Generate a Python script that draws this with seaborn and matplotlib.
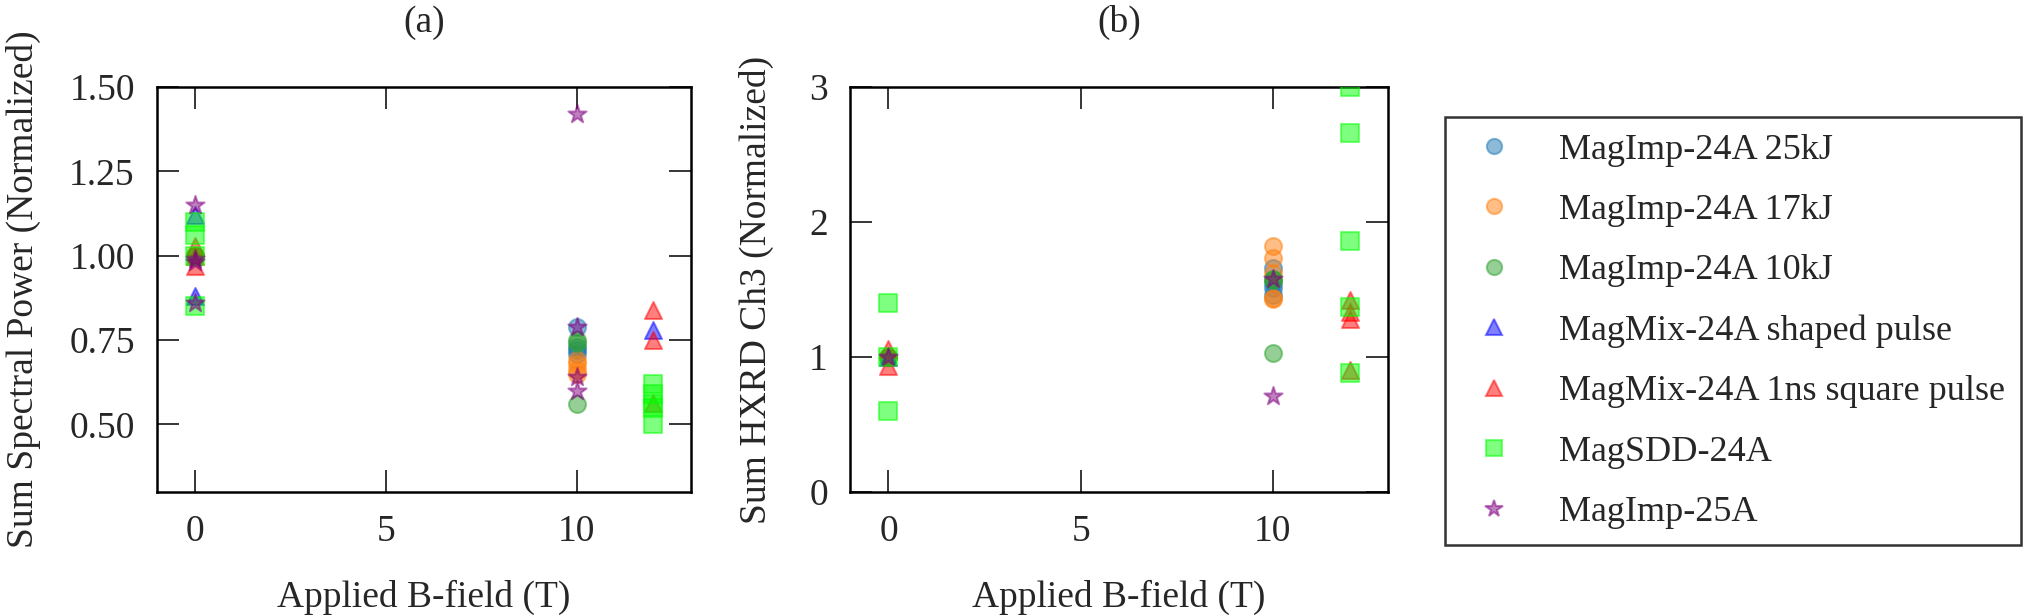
import pandas as pd
import numpy as np
import matplotlib
matplotlib.use('Agg')
import matplotlib.pyplot as plt
from matplotlib.lines import Line2D
from matplotlib.ticker import FormatStrFormatter
import seaborn as sns

series_names = ['MagImp-24A 25kJ', 'MagImp-24A 17kJ', 'MagImp-24A 10kJ',
                'MagMix-24A shaped pulse', 'MagMix-24A 1ns square pulse',
                'MagSDD-24A', 'MagImp-25A']
series_colors = ['tab:blue', 'tab:orange', 'tab:green', 'blue', 'red', 'lime', 'purple']
series_markers = ['o', 'o', 'o', '^', '^', 's', '*']

# panel (a): sum spectral power, normalized
imp25k_a_x = [0, 10, 10, 10, 10]
imp25k_a_y = [1.00, 0.79, 0.73, 0.72, 0.71]
imp17k_a_x = [0, 10, 10, 10, 10]
imp17k_a_y = [1.00, 0.69, 0.68, 0.66, 0.65]
imp10k_a_x = [0, 10, 10, 10]
imp10k_a_y = [1.00, 0.75, 0.74, 0.56]
mixshaped_a_x = [0, 0, 12]
mixshaped_a_y = [1.12, 0.88, 0.78]
mixsquare_a_x = [0, 0, 0, 12, 12, 12]
mixsquare_a_y = [1.03, 1.00, 0.97, 0.84, 0.75, 0.565]
sdd_a_x = [0, 0, 0, 0, 12, 12, 12, 12, 12]
sdd_a_y = [1.10, 1.06, 1.00, 0.85, 0.62, 0.59, 0.56, 0.55, 0.50]
imp25a_a_x = [0, 0, 0, 0, 10, 10, 10, 10]
imp25a_a_y = [1.15, 0.99, 0.98, 0.86, 1.42, 0.79, 0.64, 0.60]

# panel (b): sum HXRD ch3, normalized
imp25k_b_x = [0, 10, 10, 10, 10]
imp25k_b_y = [1.00, 1.66, 1.55, 1.51, 1.46]
imp17k_b_x = [0, 10, 10, 10, 10, 10]
imp17k_b_y = [1.00, 1.82, 1.73, 1.62, 1.44, 1.43]
imp10k_b_x = [0, 10, 10, 10]
imp10k_b_y = [1.00, 1.58, 1.57, 1.03]
mixshaped_b_x = [0]
mixshaped_b_y = [1.00]
mixsquare_b_x = [0, 0, 12, 12, 12, 12]
mixsquare_b_y = [1.06, 0.93, 1.42, 1.33, 1.28, 0.90]
sdd_b_x = [0, 0, 0, 12, 12, 12, 12, 12]
sdd_b_y = [1.40, 1.00, 0.60, 3.00, 2.66, 1.86, 1.37, 0.88]
imp25a_b_x = [0, 10, 10]
imp25a_b_y = [1.00, 1.58, 0.71]

panel_a = [(imp25k_a_x, imp25k_a_y), (imp17k_a_x, imp17k_a_y), (imp10k_a_x, imp10k_a_y),
           (mixshaped_a_x, mixshaped_a_y), (mixsquare_a_x, mixsquare_a_y),
           (sdd_a_x, sdd_a_y), (imp25a_a_x, imp25a_a_y)]
panel_b = [(imp25k_b_x, imp25k_b_y), (imp17k_b_x, imp17k_b_y), (imp10k_b_x, imp10k_b_y),
           (mixshaped_b_x, mixshaped_b_y), (mixsquare_b_x, mixsquare_b_y),
           (sdd_b_x, sdd_b_y), (imp25a_b_x, imp25a_b_y)]


def to_frame(panel):
    rows = []
    for name, (xs, ys) in zip(series_names, panel):
        for x, y in zip(xs, ys):
            rows.append({'field': x, 'value': y, 'series': name})
    return pd.DataFrame(rows)


sns.set_style('ticks')
plt.rcParams['font.family'] = ['Liberation Serif', 'DejaVu Serif']
plt.rcParams['font.size'] = 27

fig = plt.figure(figsize=(20.39, 6.16), dpi=100)
ax1 = fig.add_axes([0.077, 0.2013, 0.262, 0.6575])
ax2 = fig.add_axes([0.4169, 0.2013, 0.2639, 0.6575])

palette = dict(zip(series_names, series_colors))
markers = dict(zip(series_names, series_markers))

for ax, panel in [(ax1, panel_a), (ax2, panel_b)]:
    df = to_frame(panel)
    for name in series_names:
        sub = df[df['series'] == name]
        if sub.empty:
            continue
        size = 190 if markers[name] == '*' else 150
        sns.scatterplot(data=sub, x='field', y='value', ax=ax, color=palette[name],
                        marker=markers[name], s=size, alpha=0.5, edgecolor=palette[name],
                        linewidth=1.5, legend=False, zorder=3)

ax1.set_xlim(-1, 13)
ax1.set_ylim(0.3, 1.5)
ax1.set_yticks([0.5, 0.75, 1.0, 1.25, 1.5])
ax1.yaxis.set_major_formatter(FormatStrFormatter('%.2f'))
ax1.set_ylabel('Sum Spectral Power (Normalized)', labelpad=20)
ax1.set_title('(a)', pad=40, fontsize=27)

ax2.set_xlim(-1, 13)
ax2.set_ylim(0, 3)
ax2.set_yticks([0, 1, 2, 3])
ax2.set_ylabel('Sum HXRD Ch3 (Normalized)', labelpad=25)
ax2.set_title('(b)', pad=40, fontsize=27)

for ax in (ax1, ax2):
    ax.set_xticks([0, 5, 10])
    ax.set_xlabel('Applied B-field (T)', labelpad=22)
    ax.tick_params(direction='in', length=16, width=1.1, top=True, right=True,
                   labelsize=27, pad=16, color='black')
    for sp in ax.spines.values():
        sp.set_linewidth(1.8)
        sp.set_color('black')

handles = [Line2D([], [], linestyle='none', marker=m, color=c, markerfacecolor=c,
                  markeredgecolor=c, alpha=0.5, markersize=13 if m == '*' else 11,
                  markeredgewidth=1.5)
           for m, c in zip(series_markers, series_colors)]
leg = fig.legend(handles, series_names, loc='upper left',
                 bbox_to_anchor=(0.700, 0.839), fontsize=26, frameon=True,
                 fancybox=False, handlelength=1.8, handletextpad=0.9,
                 labelspacing=0.75, borderpad=0.45)
leg.get_frame().set_edgecolor('black')
leg.get_frame().set_linewidth(1.8)

fig.savefig('out.png', dpi=100)
